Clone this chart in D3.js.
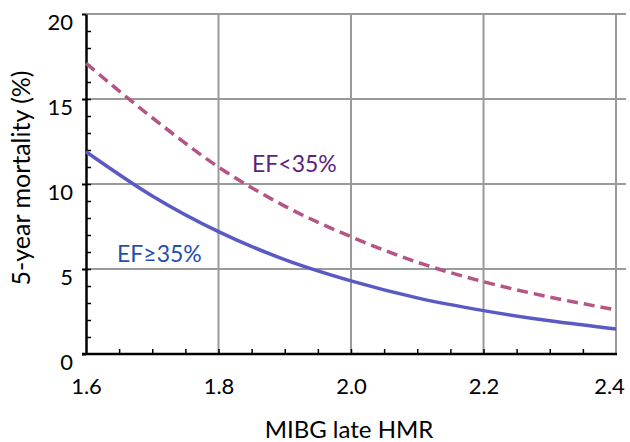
<!DOCTYPE html>
<html>
<head>
<meta charset="utf-8">
<script src="https://cdn.jsdelivr.net/npm/d3@7"></script>
<style>
  body { margin: 0; background: #fff; }
  svg { display: block; }
  text { font-family: Lato, "Open Sans", sans-serif; }
</style>
</head>
<body>
<div id="chart"></div>
<script>
const hmr = [1.6, 1.7, 1.8, 1.9, 2.0, 2.1, 2.2, 2.3, 2.4];
const mortalityLowEF = [17.1, 13.9, 11.0, 8.7, 6.9, 5.4, 4.25, 3.35, 2.6];   // EF<35%
const mortalityHighEF = [11.9, 9.3, 7.2, 5.55, 4.3, 3.3, 2.55, 1.95, 1.47]; // EF>=35%

const xTicks = [1.6, 1.8, 2.0, 2.2, 2.4];
const yTicks = [0, 5, 10, 15, 20];
const xMinor = d3.range(1.65, 2.4, 0.05);
const yMinor = d3.range(1, 20, 1);

const W = 630, H = 442;
const x = d3.scaleLinear().domain([1.6, 2.4]).range([86, 616]);
const y = d3.scaleLinear().domain([0, 20]).range([354, 14]);

const svg = d3.select("#chart").append("svg")
    .attr("width", W).attr("height", H);

// grid
const grid = svg.append("g").attr("stroke", "#9a9a9a").attr("stroke-width", 2);
grid.selectAll(".hg").data(yTicks.filter(d => d > 0)).enter().append("line")
    .attr("x1", x(1.6)).attr("x2", x(2.4) + 10)
    .attr("y1", d => y(d)).attr("y2", d => y(d));
grid.selectAll(".vg").data(xTicks.filter(d => d > 1.6)).enter().append("line")
    .attr("x1", d => x(d)).attr("x2", d => x(d))
    .attr("y1", y(20)).attr("y2", y(0));

// minor ticks
svg.append("g")
    .attr("transform", `translate(${x(1.6)},0)`)
    .call(d3.axisLeft(y).tickValues(yMinor).tickSize(-5).tickFormat(""))
    .call(g => g.select(".domain").remove())
    .selectAll("line").attr("stroke", "#000").attr("stroke-width", 1.5);
svg.append("g")
    .attr("transform", `translate(0,${y(0)})`)
    .call(d3.axisBottom(x).tickValues(xMinor).tickSize(-5).tickFormat(""))
    .call(g => g.select(".domain").remove())
    .selectAll("line").attr("stroke", "#000").attr("stroke-width", 1.5);

// major axes
const yAxis = svg.append("g")
    .attr("transform", `translate(${x(1.6)},0)`)
    .call(d3.axisLeft(y).tickValues(yTicks).tickSize(4).tickPadding(9).tickSizeOuter(0));
yAxis.selectAll("text").attr("dy", "15px");
const xAxis = svg.append("g")
    .attr("transform", `translate(0,${y(0)})`)
    .call(d3.axisBottom(x).tickValues(xTicks).tickSize(0).tickPadding(24).tickFormat(d3.format(".1f")).tickSizeOuter(0));
// last label sits a little left of its tick, as in the original
xAxis.selectAll(".tick text").filter(d => d === 2.4).attr("dx", "-7px");

[yAxis, xAxis].forEach(a => {
    a.select(".domain").attr("stroke", "#000").attr("stroke-width", 2.5);
    a.selectAll("line").attr("stroke", "#000").attr("stroke-width", 2);
    a.selectAll("text").attr("fill", "#000").style("font-size", "22px")
        .style("font-family", "Lato, 'Open Sans', sans-serif");
});
xAxis.select(".domain").attr("d", `M${x(1.6) - 4},0H${x(2.4) + 1}`);

// curves
const line = d3.line().x((d, i) => x(hmr[i])).y(d => y(d)).curve(d3.curveMonotoneX);
svg.append("path").datum(mortalityLowEF)
    .attr("fill", "none").attr("stroke", "#b45584").attr("stroke-width", 3.5)
    .attr("stroke-dasharray", "11,6")
    .attr("d", line);
svg.append("path").datum(mortalityHighEF)
    .attr("fill", "none").attr("stroke", "#5a5ac4").attr("stroke-width", 3.5)
    .attr("d", line);

// series labels
svg.append("text").attr("x", 252).attr("y", 172)
    .attr("fill", "#5e1f7e").style("font-size", "23px").text("EF<35%");
svg.append("text").attr("x", 117).attr("y", 262)
    .attr("fill", "#1f4fb0").style("font-size", "23px").text("EF≥35%");

// axis titles
svg.append("text").attr("x", 349).attr("y", 438)
    .attr("text-anchor", "middle").style("font-size", "24px").text("MIBG late HMR");
svg.append("text").attr("transform", "translate(30,178) rotate(-90)")
    .attr("text-anchor", "middle").style("font-size", "25px").text("5-year mortality (%)");
</script>
</body>
</html>
